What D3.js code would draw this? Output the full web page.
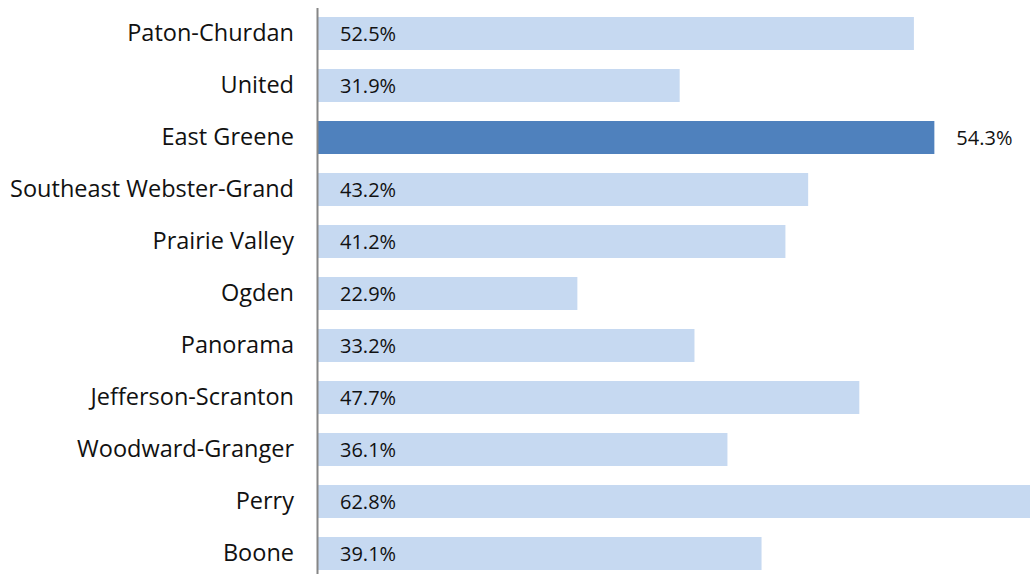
<!DOCTYPE html>
<html>
<head>
<meta charset="utf-8">
<script src="https://cdn.jsdelivr.net/npm/d3@7"></script>
<style>
  html, body { margin: 0; padding: 0; background: #fff; }
  svg { display: block; }
</style>
</head>
<body>
<svg id="chart"></svg>
<script>
'use strict';

// districts, top to bottom
const districts = ['Paton-Churdan', 'United', 'East Greene', 'Southeast Webster-Grand',
  'Prairie Valley', 'Ogden', 'Panorama', 'Jefferson-Scranton', 'Woodward-Granger', 'Perry', 'Boone'];
const shares = [52.5, 31.9, 54.3, 43.2, 41.2, 22.9, 33.2, 47.7, 36.1, 62.8, 39.1];
const highlighted = ['East Greene'];

const width = 1030, height = 574;
const axisX = 317;

const svg = d3.select('#chart')
   .attr('width', width)
   .attr('height', height);

// scales
const x = d3.scaleLinear()
   .domain([0, 62.8])
   .range([axisX, 1031]);

const y = d3.scaleBand()
   .domain(districts)
   .range([7.5, 7.5 + 52 * districts.length])
   .paddingInner(19 / 52)
   .paddingOuter(19 / 104);

const rows = districts.map((d, i) => ({ name: d, value: shares[i], hi: highlighted.includes(d) }));

// bars
svg.append('g')
  .selectAll('rect')
  .data(rows)
  .join('rect')
    .attr('x', x(0))
    .attr('y', d => y(d.name))
    .attr('width', d => x(d.value) - x(0))
    .attr('height', y.bandwidth())
    .attr('fill', d => d.hi ? '#4f81bd' : '#c6d9f1');

// category axis
const yAxis = d3.axisLeft(y).tickSize(0).tickPadding(23);
const gy = svg.append('g')
   .attr('transform', `translate(${axisX}, 0)`)
   .call(yAxis);

gy.select('.domain')
   .attr('stroke', '#868686')
   .attr('stroke-width', 2);

gy.selectAll('text')
   .attr('font-family', '"Open Sans", Lato, sans-serif')
   .attr('font-size', 23.5)
   .attr('fill', '#111');

// value labels: inside at bar start, highlighted one after the bar end
svg.append('g')
  .selectAll('text')
  .data(rows)
  .join('text')
    .attr('x', d => d.hi ? x(d.value) + 22 : x(0) + 23)
    .attr('y', d => y(d.name) + y.bandwidth() / 2)
    .attr('dy', '0.36em')
    .attr('font-family', '"Open Sans", Lato, sans-serif')
    .attr('font-size', 20)
    .attr('fill', '#111')
    .text(d => d.value.toFixed(1) + '%');
</script>
</body>
</html>
